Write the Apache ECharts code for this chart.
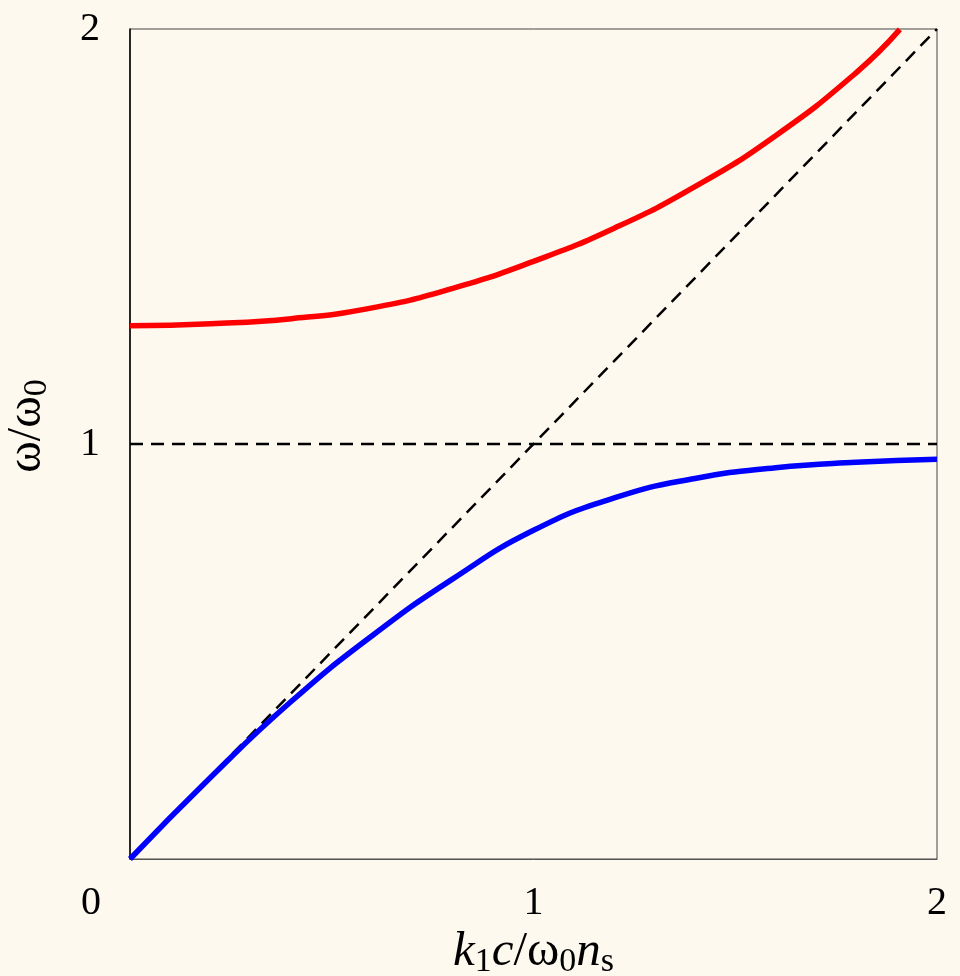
<!DOCTYPE html>
<html>
<head>
<meta charset="utf-8">
<script src="https://cdn.jsdelivr.net/npm/echarts@6/dist/echarts.min.js"></script>
<style>
  html, body { margin: 0; padding: 0; background: #fdf9ef; }
  #chart { width: 960px; height: 976px; }
</style>
</head>
<body>
<div id="chart"></div>
<script>
// upper branch (red)
const upperX = [0, 0.2, 0.4, 0.6, 0.8, 1.0, 1.2, 1.4, 1.6, 1.8, 1.908];
const upperY = [1.285, 1.290, 1.302, 1.328, 1.375, 1.440, 1.520, 1.620, 1.743, 1.895, 1.999];

// lower branch (blue)
const lowerX = [0, 0.2, 0.4, 0.6, 0.8, 1.0, 1.2, 1.4, 1.6, 1.8, 2.0];
const lowerY = [0, 0.197, 0.380, 0.538, 0.675, 0.792, 0.870, 0.917, 0.943, 0.956, 0.963];

// dashed guides: light line and resonance
const lightLine = [[0, 0], [2, 2]];
const resonance = [[0, 1], [2, 1]];

const font = "'Liberation Serif'";

function pairs(xs, ys) {
  return xs.map((x, i) => [x, ys[i]]);
}

const chart = echarts.init(document.getElementById("chart"));

const option = {
  backgroundColor: "#fdf9ef",
  animation: false,
  grid: {
    left: 130,
    right: 23,
    top: 29,
    bottom: 117,
    outerBoundsMode: "none",
    containLabel: false,
    show: true,
    borderColor: "#444",
    borderWidth: 1
  },
  xAxis: {
    type: "value",
    min: 0,
    max: 2,
    interval: 1,
    axisLine: { show: true, lineStyle: { color: "#555", width: 1 } },
    axisTick: { show: false },
    splitLine: { show: false },
    axisLabel: {
      margin: 24,
      color: "#000",
      fontFamily: font,
      fontSize: 40,
      // the corner "0" sits down-left of the origin
      formatter: function (v) {
        return v === 0 ? "{z|0}" : String(v);
      },
      rich: {
        z: { fontFamily: font, fontSize: 40, color: "#000", padding: [0, 78, 0, 0] }
      }
    },
    name: "{i|k}{s|1}{i|c}{n|/ω}{s|0}{i|n}{s|s}",
    nameLocation: "middle",
    nameGap: 64,
    nameTextStyle: {
      rich: {
        i: { fontFamily: font, fontStyle: "italic", fontSize: 49, color: "#000" },
        n: { fontFamily: font, fontSize: 49, color: "#000" },
        s: { fontFamily: font, fontSize: 34, color: "#000", padding: [20, 0, 0, 0] }
      }
    }
  },
  yAxis: {
    type: "value",
    min: 0,
    max: 2,
    interval: 1,
    axisLine: { show: true, lineStyle: { color: "#000", width: 1.5 } },
    axisTick: { show: false },
    splitLine: { show: false },
    axisLabel: {
      margin: 30,
      color: "#000",
      fontFamily: font,
      fontSize: 40,
      formatter: function (v) {
        return v === 0 ? "" : String(v);
      }
    },
    name: "{n|ω/ω}{s|0}",
    nameLocation: "middle",
    nameGap: 76,
    nameRotate: 90,
    nameTextStyle: {
      padding: [0, 0, 0, 36],
      rich: {
        n: { fontFamily: font, fontSize: 48, color: "#000" },
        s: { fontFamily: font, fontSize: 34, color: "#000", padding: [20, 0, 0, 0] }
      }
    }
  },
  series: [
    {
      type: "line",
      data: resonance,
      symbol: "none",
      silent: true,
      lineStyle: { color: "#000", width: 2.5, type: [13, 8] },
      z: 1
    },
    {
      type: "line",
      data: lightLine,
      symbol: "none",
      silent: true,
      lineStyle: { color: "#000", width: 2.5, type: [13, 8] },
      z: 1
    },
    {
      type: "line",
      data: pairs(upperX, upperY),
      symbol: "none",
      smooth: 0.5,
      lineStyle: { color: "#ff0000", width: 5.5 },
      z: 3
    },
    {
      type: "line",
      data: pairs(lowerX, lowerY),
      symbol: "none",
      smooth: 0.5,
      lineStyle: { color: "#0000ff", width: 5.5 },
      z: 3
    }
  ]
};

chart.setOption(option);
</script>
</body>
</html>
